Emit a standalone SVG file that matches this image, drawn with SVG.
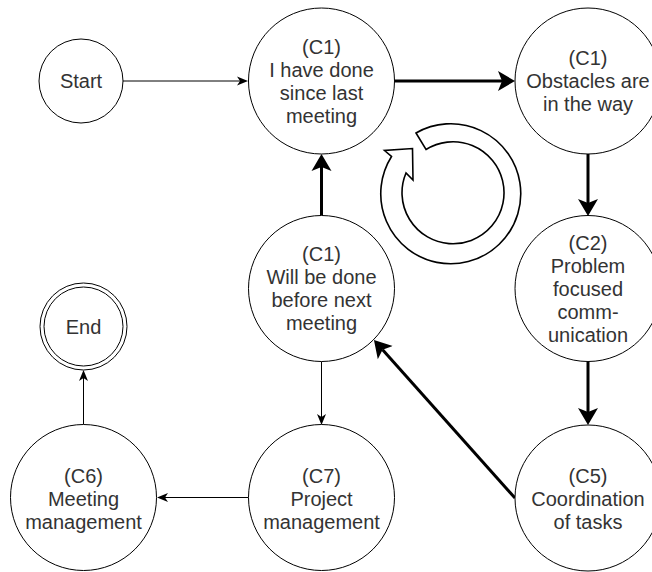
<svg xmlns="http://www.w3.org/2000/svg" width="652" height="572" viewBox="0 0 652 572">
  <style>
    .node { fill: #ffffff; stroke: #000000; stroke-width: 1; }
    .label { font-family: "Liberation Sans", Arial, Helvetica, sans-serif; font-size: 20px; fill: #333333; text-anchor: middle; }
    .thin { stroke: #000000; stroke-width: 1; fill: none; marker-end: url(#headThin); }
    .thick { stroke: #000000; stroke-width: 3; fill: none; marker-end: url(#headThick); }
    .cycle { fill: #ffffff; stroke: #000000; stroke-width: 1.6; stroke-linejoin: miter; }
  </style>
  <defs>
    <!-- classic notched arrowheads; reference point sits at the notch -->
    <marker id="headThin" markerUnits="userSpaceOnUse" viewBox="0 -6 12 12" markerWidth="12" markerHeight="12" refX="3" refY="0" orient="auto">
      <path d="M11,0 L0,-4.5 L3,0 L0,4.5 Z" fill="#000000"/>
    </marker>
    <marker id="headThick" markerUnits="userSpaceOnUse" viewBox="0 -11 18 22" markerWidth="18" markerHeight="22" refX="4" refY="0" orient="auto">
      <path d="M17,0 L0,-10 L4,0 L0,10 Z" fill="#000000"/>
    </marker>
  </defs>

  <!-- connectors -->
  <g id="connectors">
    <line class="thin" x1="123" y1="81" x2="240" y2="81"/>
    <line class="thick" x1="395" y1="81" x2="502" y2="81"/>
    <line class="thick" x1="588" y1="154" x2="588" y2="203"/>
    <line class="thick" x1="588" y1="362" x2="588" y2="412"/>
    <line class="thick" x1="515" y1="498" x2="382.6" y2="349.7"/>
    <line class="thick" x1="321.5" y1="215.5" x2="321.5" y2="167"/>
    <line class="thin" x1="321.5" y1="361.5" x2="321.5" y2="417"/>
    <line class="thin" x1="248.5" y1="497.5" x2="165" y2="497.5"/>
    <line class="thin" x1="83.5" y1="424.5" x2="83.5" y2="378"/>
  </g>

  <!-- cycle symbol in the middle of the loop -->
  <g id="cycle-symbol">
    <path class="cycle" d="M416,133 A70,70 0 1 1 391.5,156.5 L384.5,150.5 L412.5,148.5 L413,180 L406,173 A51,51 0 1 0 426,149.5 Z"/>
  </g>

  <g id="start">
    <circle class="node" cx="81" cy="81" r="42"/>
    <text class="label" x="81" y="88">Start</text>
  </g>

  <g id="done-since-last">
    <circle class="node" cx="321.5" cy="81" r="73"/>
    <text class="label" x="321.5" y="53.5">(C1)</text>
    <text class="label" x="321.5" y="76.5">I have done</text>
    <text class="label" x="321.5" y="99.5">since last</text>
    <text class="label" x="321.5" y="122.5">meeting</text>
  </g>

  <g id="obstacles">
    <circle class="node" cx="588" cy="81" r="73"/>
    <text class="label" x="588" y="65">(C1)</text>
    <text class="label" x="588" y="88">Obstacles are</text>
    <text class="label" x="588" y="111">in the way</text>
  </g>

  <g id="problem-focused">
    <circle class="node" cx="588" cy="288.5" r="73"/>
    <text class="label" x="588" y="249.5">(C2)</text>
    <text class="label" x="588" y="272.5">Problem</text>
    <text class="label" x="588" y="295.5">focused</text>
    <text class="label" x="588" y="318.5">comm-</text>
    <text class="label" x="588" y="341.5">unication</text>
  </g>

  <g id="coordination">
    <circle class="node" cx="588" cy="498" r="73"/>
    <text class="label" x="588" y="483">(C5)</text>
    <text class="label" x="588" y="506">Coordination</text>
    <text class="label" x="588" y="529">of tasks</text>
  </g>

  <g id="done-before-next">
    <circle class="node" cx="321.5" cy="288.5" r="73"/>
    <text class="label" x="321.5" y="261">(C1)</text>
    <text class="label" x="321.5" y="284">Will be done</text>
    <text class="label" x="321.5" y="307">before next</text>
    <text class="label" x="321.5" y="330">meeting</text>
  </g>

  <g id="project-management">
    <circle class="node" cx="321.5" cy="497.5" r="73"/>
    <text class="label" x="321.5" y="483">(C7)</text>
    <text class="label" x="321.5" y="506">Project</text>
    <text class="label" x="321.5" y="529">management</text>
  </g>

  <g id="meeting-management">
    <circle class="node" cx="83.5" cy="497.5" r="73"/>
    <text class="label" x="83.5" y="483">(C6)</text>
    <text class="label" x="83.5" y="506">Meeting</text>
    <text class="label" x="83.5" y="529">management</text>
  </g>

  <g id="end">
    <circle class="node" cx="83.5" cy="326.5" r="43.5"/>
    <circle class="node" cx="83.5" cy="326.5" r="39.5"/>
    <text class="label" x="83.5" y="334">End</text>
  </g>
</svg>
